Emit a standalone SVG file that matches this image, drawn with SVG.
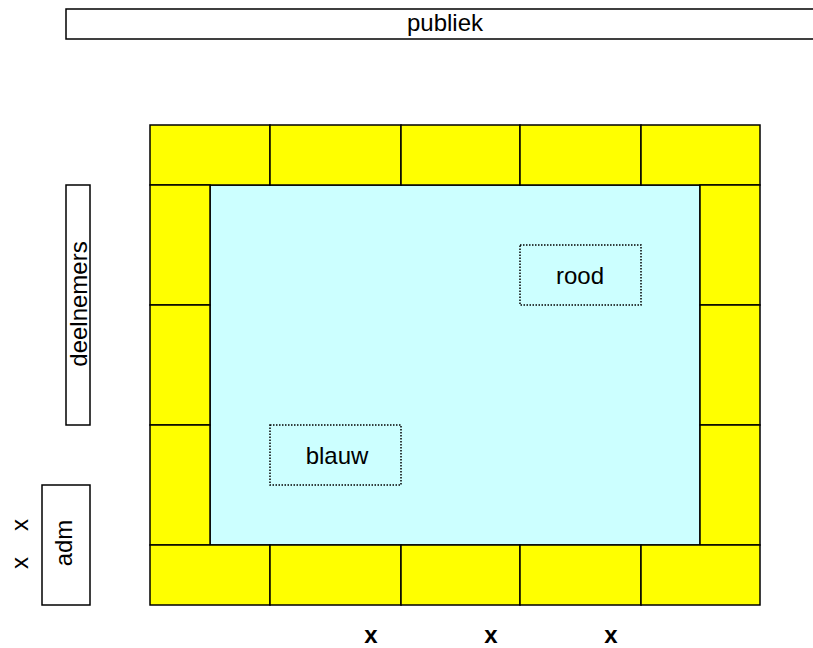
<svg xmlns="http://www.w3.org/2000/svg" width="813" height="648" viewBox="0 0 813 648">
<style>
text{font-family:"Liberation Sans",Arial,sans-serif;font-size:24px;fill:#000}
.box{fill:#fff;stroke:#000;stroke-width:1.5}
.cell{fill:#ffff00;stroke:#000;stroke-width:1.5}
.field{fill:#ccffff;stroke:#000;stroke-width:1.5}
.dot{fill:none;stroke:#000;stroke-width:1.5;stroke-dasharray:1.5 1.5}
.bx{font-weight:bold}
</style>
<rect width="813" height="648" fill="#fff"/>
<g id="publiek">
<rect class="box" x="66" y="9" width="770" height="30"/>
<text x="445" y="31" text-anchor="middle">publiek</text>
</g>
<g id="deelnemers">
<rect class="box" x="66" y="185" width="24" height="240"/>
<text transform="translate(87,304) rotate(-90)" text-anchor="middle">deelnemers</text>
</g>
<g id="adm">
<rect class="box" x="42" y="485" width="48" height="120"/>
<text transform="translate(72,543) rotate(-90)" text-anchor="middle">adm</text>
</g>
<g id="adm-x">
<text transform="translate(28,525) rotate(-90)" text-anchor="middle">x</text>
<text transform="translate(28,563) rotate(-90)" text-anchor="middle">x</text>
</g>
<g id="veld">
<rect class="field" x="210" y="185" width="490" height="360"/>
</g>
<g id="rand">
<rect class="cell" x="150" y="125" width="120" height="60"/>
<rect class="cell" x="270" y="125" width="131" height="60"/>
<rect class="cell" x="401" y="125" width="119" height="60"/>
<rect class="cell" x="520" y="125" width="121" height="60"/>
<rect class="cell" x="641" y="125" width="119" height="60"/>
<rect class="cell" x="150" y="185" width="60" height="120"/>
<rect class="cell" x="150" y="305" width="60" height="120"/>
<rect class="cell" x="150" y="425" width="60" height="120"/>
<rect class="cell" x="700" y="185" width="60" height="120"/>
<rect class="cell" x="700" y="305" width="60" height="120"/>
<rect class="cell" x="700" y="425" width="60" height="120"/>
<rect class="cell" x="150" y="545" width="120" height="60"/>
<rect class="cell" x="270" y="545" width="131" height="60"/>
<rect class="cell" x="401" y="545" width="119" height="60"/>
<rect class="cell" x="520" y="545" width="121" height="60"/>
<rect class="cell" x="641" y="545" width="119" height="60"/>
</g>
<g id="rood">
<rect class="dot" x="520" y="245" width="121" height="60"/>
<text x="580" y="284" text-anchor="middle">rood</text>
</g>
<g id="blauw">
<rect class="dot" x="270" y="425" width="131" height="60"/>
<text x="337" y="464" text-anchor="middle">blauw</text>
</g>
<g id="bottom-x">
<text class="bx" x="371" y="643" text-anchor="middle">x</text>
<text class="bx" x="491" y="643" text-anchor="middle">x</text>
<text class="bx" x="611" y="643" text-anchor="middle">x</text>
</g>
<g id="connectors"/>
</svg>
